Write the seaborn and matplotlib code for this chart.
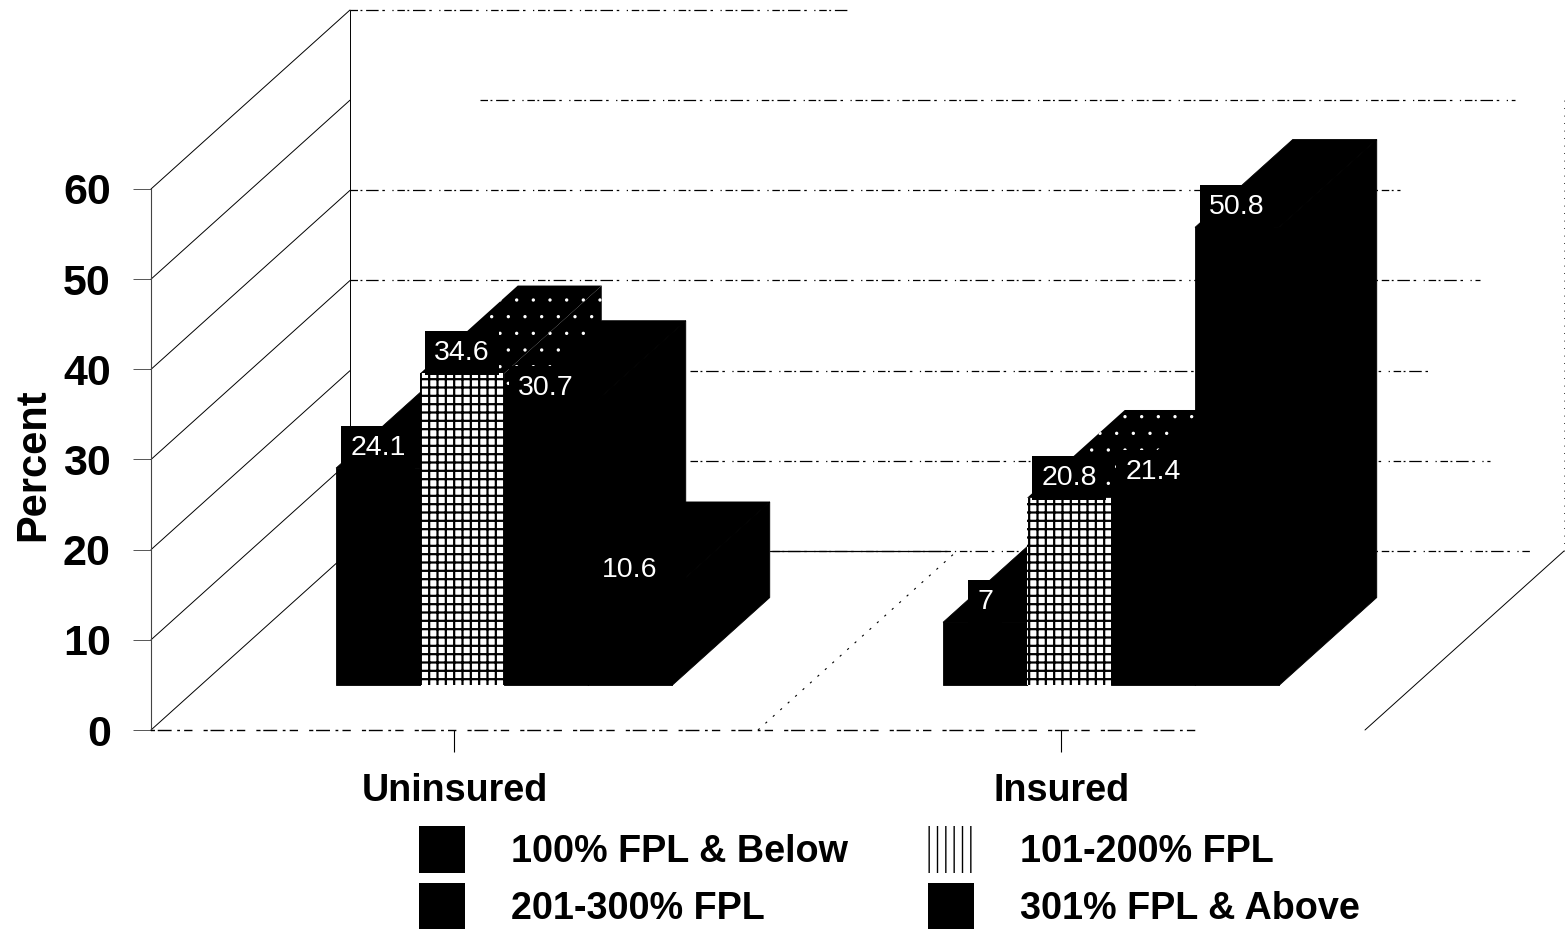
import matplotlib
matplotlib.use('Agg')
import pandas as pd
import seaborn as sns
import matplotlib.pyplot as plt
from matplotlib.patches import Patch, Polygon

# Values
groups = ["Uninsured", "Insured"]
series = ["100% FPL & Below", "101-200% FPL", "201-300% FPL", "301% FPL & Above"]
uninsured = [24.1, 34.6, 30.7, 10.6]
insured = [7, 20.8, 21.4, 50.8]
y_ticks = [0, 10, 20, 30, 40, 50, 60]

df = pd.DataFrame({
    "group": [groups[0]] * 4 + [groups[1]] * 4,
    "fpl": series * 2,
    "percent": uninsured + insured,
})

sns.set_theme(style="white")
plt.rcParams['font.family'] = ['Liberation Sans', 'DejaVu Sans']

W, H = 1567, 930
fig = plt.figure(figsize=(W / 100, H / 100), dpi=100)
ax = fig.add_axes([151 / W, (H - 730) / H, 1214 / W, 541 / H])

colors = {series[0]: "black", series[1]: "white", series[2]: "black", series[3]: "black"}
sns.barplot(data=df, x="group", y="percent", hue="fpl", hue_order=series, palette=colors,
            order=groups, width=0.5535, gap=0, linewidth=0, saturation=1, legend=False,
            errorbar=None, ax=ax)
ax.set_xlim(-0.5, 1.5)
ax.set_ylim(0, 60)

# size of the 3D floor, in axis units (px / px per unit)
DX = 199 / 607
DY = 179 / (541 / 60)
BAR_FRONT = 0.249
BAR_BACK = 0.74


def at_depth(x, y, d):
    return (x + d * DX, y + d * DY)


def px(x):
    return (x - 151) / 607 - 0.5


# walls
wall = dict(color="black", lw=0.7, clip_on=False, zorder=1)
dash = (0, (6, 2, 1.5, 3, 10, 3, 2, 6, 1, 3))
back_spans = {0: (350, 1530), 10: (690, 1490), 20: (690, 1430), 30: (350, 1480),
              40: (350, 1400), 50: (480, 1515), 60: (350, 850)}
for v in y_ticks:
    x0, y0 = at_depth(-0.5, v, 0)
    x1, y1 = at_depth(-0.5, v, 1)
    ax.plot([x0, x1], [y0, y1], **wall)
    s, e = back_spans[v]
    ax.plot([px(s), px(e)], [y1, y1], color="black", lw=0.9, ls=dash, clip_on=False, zorder=1)

x0, y0 = at_depth(-0.5, 0, 1)
x1, y1 = at_depth(-0.5, 60, 1)
ax.plot([x0, x1], [y0, y1], **wall)

# solid part of the back floor edge between the groups
ax.plot([px(770), px(950)], [y0, y0], color="black", lw=0.9, clip_on=False, zorder=1)

# floor divider and right wall
ax.plot(*zip(at_depth(0.5, 0, 0), at_depth(0.5, 0, 1)), color="black", lw=0.8,
        ls=(0, (2, 7)), clip_on=False, zorder=1)
ax.plot(*zip(at_depth(1.5, 0, 0), at_depth(1.5, 0, 1)), **wall)
ax.plot(*zip(at_depth(1.5, 0, 1), at_depth(1.5, 50, 1)), color="black", lw=0.6,
        ls=(0, (1, 8)), clip_on=False, zorder=1)

# bars: move the seaborn faces forward on the floor, then add top and side
for i, bars in enumerate(ax.containers):
    for bar in bars:
        x = bar.get_x()
        w = bar.get_width()
        v = bar.get_height()
        z = 3 + i
        xs, ys = at_depth(x, 0, BAR_FRONT)
        bar.set_x(xs)
        bar.set_y(ys)
        bar.set_clip_on(False)
        bar.set_zorder(z + 0.5)

        top = [at_depth(x, v, BAR_FRONT), at_depth(x + w, v, BAR_FRONT),
               at_depth(x + w, v, BAR_BACK), at_depth(x, v, BAR_BACK)]
        side = [at_depth(x + w, 0, BAR_FRONT), at_depth(x + w, 0, BAR_BACK),
                at_depth(x + w, v, BAR_BACK), at_depth(x + w, v, BAR_FRONT)]
        for pts in (side, top):
            face = Polygon(pts, closed=True, facecolor="black", edgecolor="black", lw=0.6,
                           clip_on=False, zorder=z)
            if i == 1:
                face.set_linewidth(0)
                face.set_edgecolor("white")
                face.set_hatch(".")
                face.set_hatch_linewidth(0)
            ax.add_patch(face)

        if i == 1:
            bar.set_edgecolor("black")
            bar.set_hatch("++")
            bar.set_hatch_linewidth(1.6)
        else:
            bar.set_edgecolor("black")
            bar.set_linewidth(0.6)

        ax.annotate(f"{v:g}", (xs + w / 2, ys + v), xytext=(0, 14.5), textcoords="offset points",
                    ha="center", va="center", color="white", fontsize=20.5, zorder=20,
                    annotation_clip=False,
                    bbox=dict(boxstyle="square,pad=0.32", fc="black", ec="none"))

# axes
sns.despine(ax=ax, top=True, right=True)
ax.spines["left"].set_linewidth(0.8)
ax.spines["left"].set_color("#444444")
ax.spines["bottom"].set_linewidth(1.0)
ax.spines["bottom"].set_linestyle((0, (2, 3, 9, 5, 1, 4, 5, 9)))
ax.spines["bottom"].set_color("black")
ax.spines["bottom"].set_bounds(-0.5, px(1200))

ax.set_yticks(y_ticks)
ax.set_xticks([0, 1])
ax.set_xticklabels(groups)
ax.tick_params(axis="y", left=True, length=13, width=0.7, color="#555555", pad=16, labelsize=31)
ax.tick_params(axis="x", bottom=True, length=16, width=0.8, color="black", pad=15, labelsize=27.2)
for lab in ax.get_xticklabels() + ax.get_yticklabels():
    lab.set_fontweight("bold")
    lab.set_color("black")

ax.set_xlabel("")
ax.set_ylabel("Percent", fontsize=30, fontweight="bold", color="black")
ax.yaxis.set_label_coords((53 - 151) / 1214, (730 - 465) / 541)

# legend
handles = [Patch(facecolor=colors[s], edgecolor="black", lw=0) for s in series]
handles[1].set_hatch("||")
handles[1].set_hatch_linewidth(1.8)
order = [0, 2, 1, 3]
fig.legend([handles[j] for j in order], [series[j] for j in order], ncols=2, frameon=False,
           loc="upper left", bbox_to_anchor=(419 / W, (H - 826) / H), borderpad=0, borderaxespad=0,
           prop={"size": 27.2, "weight": "bold"}, labelcolor="black",
           handlelength=1.22, handleheight=1.52, handletextpad=1.22,
           columnspacing=2.11, labelspacing=0.27)

fig.savefig("out.png", dpi=100)
